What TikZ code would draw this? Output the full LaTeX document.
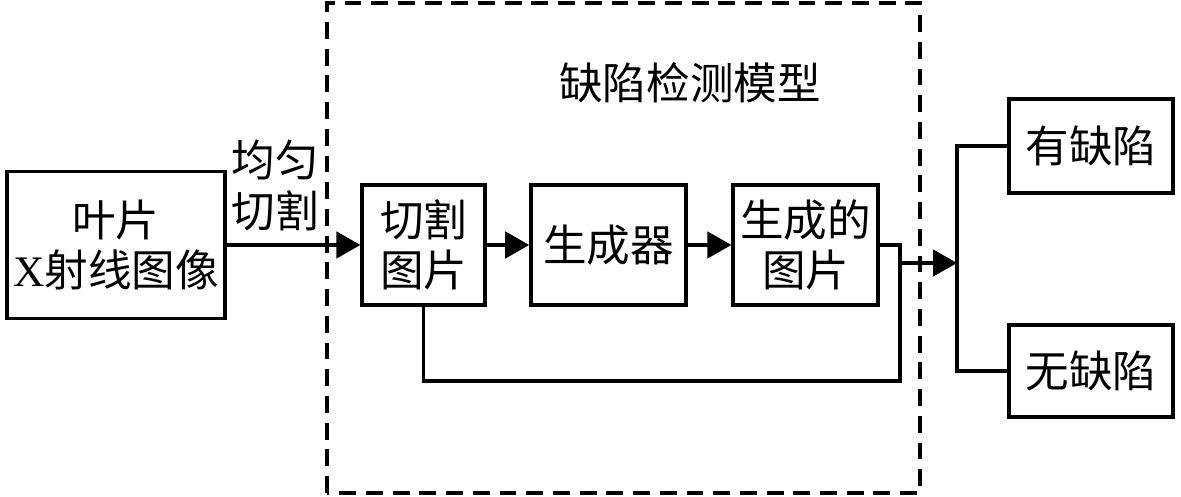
\documentclass[tikz,border=0pt]{standalone}
\usepackage{fontspec}
\usepackage{tikz}
\usetikzlibrary{calc,arrows.meta}
\setmainfont{Liberation Serif}
\newfontfamily\cjk{Noto Sans CJK SC}
\definecolor{ink}{HTML}{000000}
\tikzset{
  box/.style={draw=ink, line width=2.4pt, align=center, inner sep=0pt, font=\cjk\fontsize{31}{36}\selectfont},
  link/.style={draw=ink, line width=2.4pt},
  flow/.style={draw=ink, line width=2.4pt, -{Triangle[length=0.6cm,width=0.66cm]}},
  frame/.style={draw=ink, line width=2.4pt, dash pattern=on 12pt off 7pt},
  lab/.style={text=ink, align=center, inner sep=0pt, font=\cjk\fontsize{31}{36}\selectfont},
}

\begin{document}
\begin{tikzpicture}
  \useasboundingbox (0,0) rectangle (29.525,12.425);
  \coordinate (F1) at (8.175,0.1);
  \coordinate (F2) at (23.0,12.35);
  \draw[frame] (F1) rectangle (F2);
  \node[lab] (title) at (17.25,10.35) {缺陷检测模型};
  \node[box, minimum width=5.45cm, minimum height=3.675cm] (blade) at (2.9,6.3) {叶片\\{\rmfamily X}射线图像};
  \node[box, minimum width=3.075cm, minimum height=3cm] (cut) at (10.59,6.3) {切割\\图片};
  \node[box, minimum width=3.875cm, minimum height=3cm] (gen) at (15.21,6.3) {生成器};
  \node[box, minimum width=3.625cm, minimum height=3cm] (genimg) at (20.14,6.3) {生成的\\图片};
  \node[box, minimum width=4.1cm, minimum height=2.35cm] (yes) at (27.275,8.775) {有缺陷};
  \node[box, minimum width=4.1cm, minimum height=2.3cm] (no) at (27.275,3.15) {无缺陷};
  \node[lab] (split) at (6.875,7.79) {均匀\\切割};
  \draw[flow] (blade.east) -- (cut.west);
  \draw[flow] (cut.east) -- (gen.west);
  \draw[flow] (gen.east) -- (genimg.west);
  \coordinate (turn) at (22.5,6.3);
  \coordinate (back) at (22.5,2.9);
  \coordinate (out) at (22.5,5.85);
  \coordinate (fork) at (23.925,5.85);
  \draw[link] (genimg.east) -- (turn) -- (back) -| (cut.south);
  \draw[flow] (out) -- (fork);
  \draw[link] (yes.west) -| (fork) |- (no.west);
\end{tikzpicture}
\end{document}
